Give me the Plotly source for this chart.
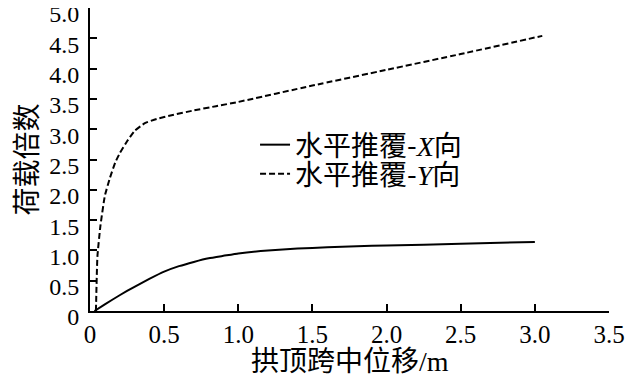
import plotly.graph_objects as go

# Data
x_dir_disp = [0.03, 0.1, 0.2, 0.3, 0.4, 0.5, 0.6, 0.7, 0.8, 0.9, 1.0, 1.2, 1.4, 1.6, 1.8, 2.0, 2.5, 3.0]
x_dir_load = [0.0, 0.11, 0.26, 0.4, 0.53, 0.65, 0.74, 0.81, 0.87, 0.91, 0.95, 1.0, 1.03, 1.05, 1.07, 1.08, 1.11, 1.14]

y_dir_disp = [0.04, 0.05, 0.07, 0.1, 0.135, 0.17, 0.2, 0.25, 0.3, 0.37, 0.45, 0.55, 0.7, 0.85, 1.0, 1.5, 2.0, 2.5, 3.05]
y_dir_load = [0.0, 0.9, 1.4, 1.9, 2.2, 2.45, 2.6, 2.8, 2.97, 3.1, 3.17, 3.23, 3.31, 3.38, 3.45, 3.72, 3.98, 4.24, 4.54]

x_tick_vals = [0, 0.5, 1.0, 1.5, 2.0, 2.5, 3.0, 3.5]
x_tick_text = ["0", "0.5", "1.0", "1.5", "2.0", "2.5", "3.0", "3.5"]
y_tick_vals = [0, 0.5, 1.0, 1.5, 2.0, 2.5, 3.0, 3.5, 4.0, 4.5, 5.0]
y_tick_text = ["0", "0.5", "1.0", "1.5", "2.0", "2.5", "3.0", "3.5", "4.0", "4.5", "5.0"]

x_title = "拱顶跨中位移<span style='font-family:Liberation Serif'>/m</span>"
y_title = "荷载倍数"
name_x = "水平推覆-<i><span style='font-family:Liberation Serif'>X</span></i>向"
name_y = "水平推覆-<i><span style='font-family:Liberation Serif'>Y</span></i>向"

CJK = "Noto Sans CJK SC"
SERIF = "Liberation Serif"

fig = go.Figure()
fig.add_trace(go.Scatter(x=x_dir_disp, y=x_dir_load, mode="lines", name=name_x, legend="legend",
                         line=dict(color="black", width=2, shape="spline", smoothing=0.4)))
fig.add_trace(go.Scatter(x=y_dir_disp, y=y_dir_load, mode="lines", name=name_y, legend="legend2",
                         line=dict(color="black", width=2, dash="6px,3px", shape="spline", smoothing=0.4)))

legend_common = dict(xanchor="left", yanchor="middle", bgcolor="rgba(0,0,0,0)", borderwidth=0,
                     font=dict(family=CJK, size=28, color="black"), itemwidth=30)

axis_common = dict(ticks="inside", ticklen=7, tickwidth=2, tickcolor="black",
                   showline=True, linecolor="black", linewidth=2, showgrid=False, zeroline=False,
                   ticklabeloverflow="allow", automargin=False)

# The page body adds an 8px offset, so margins are reduced by 8px on the left/top.
fig.update_layout(
    width=640, height=377,
    margin=dict(l=82, r=39, t=0, b=74),
    paper_bgcolor="white", plot_bgcolor="white",
    showlegend=True,
    legend=dict(x=0.318, y=0.548, **legend_common),
    legend2=dict(x=0.318, y=0.452, **legend_common),
    xaxis=dict(range=[0, 3.5], tickvals=x_tick_vals, ticktext=x_tick_text,
               tickfont=dict(family=SERIF, size=25, color="black"), **axis_common),
    yaxis=dict(range=[0, 5], tickvals=y_tick_vals, ticktext=y_tick_text,
               tickfont=dict(family=SERIF, size=24, color="black"), ticklabelshift=6,
               ticklabelstandoff=4, **axis_common),
    annotations=[
        dict(text=x_title, xref="paper", yref="paper", x=0.5, y=-0.16, yanchor="middle",
             xanchor="center", showarrow=False, font=dict(family=CJK, size=28, color="black")),
        dict(text=y_title, xref="paper", yref="paper", x=-0.127, y=0.5, xanchor="center",
             yanchor="middle", textangle=-90, showarrow=False,
             font=dict(family=CJK, size=28, color="black")),
    ],
)

fig.write_html("out.html")
